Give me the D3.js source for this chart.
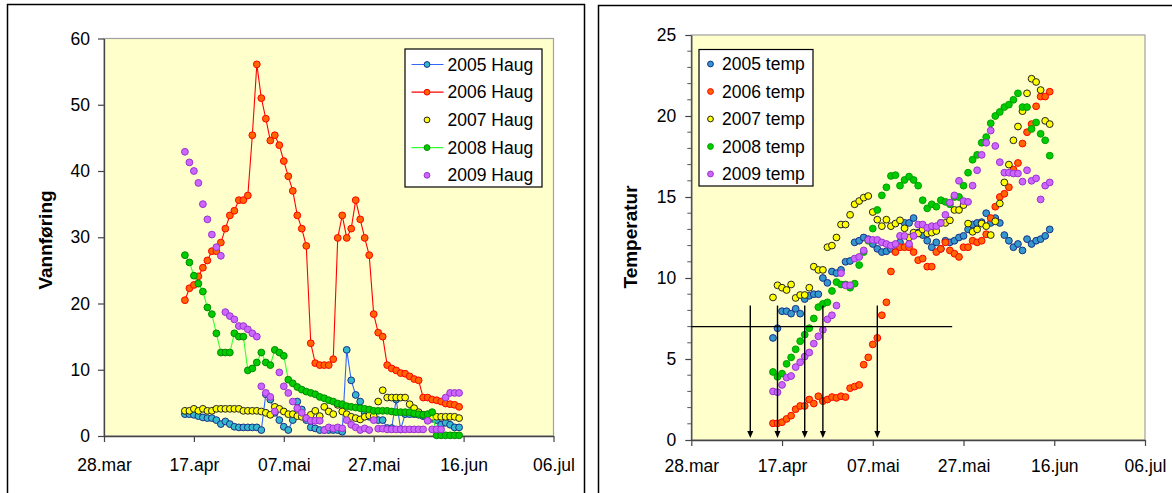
<!DOCTYPE html>
<html><head><meta charset="utf-8">
<script src="https://cdn.jsdelivr.net/npm/d3@7/dist/d3.min.js"></script>
<style>
body{margin:0;background:#fff}
svg{display:block}
text{font-family:"Liberation Sans",Arial,Helvetica,sans-serif;fill:#000}
</style>
</head><body>
<svg id="chart" width="1172" height="493"></svg>
<script>
// ---------- DATA ----------
const firstDay = Date.UTC(2009, 3, 15);   // 15 April
const dayAfterLast = Date.UTC(2009, 5, 16); // last sample 15 June
const dates = d3.utcDay.range(new Date(firstDay), new Date(dayAfterLast));

const xTickDates = ["2009-03-28","2009-04-17","2009-05-07","2009-05-27","2009-06-16","2009-07-06"];
const xTickLabels = ["28.mar","17.apr","07.mai","27.mai","16.jun","06.jul"];
const flowTicks = [0,10,20,30,40,50,60];
const tempTicks = [0,5,10,15,20,25];

const flowNames = ["2005 Haug","2006 Haug","2007 Haug","2008 Haug","2009 Haug"];
const tempNames = ["2005 temp","2006 temp","2007 temp","2008 temp","2009 temp"];

const haug2005 = [3.3,3.3,3.2,3.0,2.8,2.7,2.7,2.4,1.8,2.2,1.8,1.4,1.3,1.3,1.3,1.3,1.3,0.9,6.3,5.5,3.5,2.4,1.4,0.9,2.4,5.2,4.0,2.4,1.3,1.15,0.9,0.9,0.9,0.9,0.9,0.65,13.0,8.4,6.2,5.2,3.5,2.9,2.6,2.4,2.4,1.2,1.2,5.5,1.0,3.3,3.3,3.3,3.2,3.0,2.8,2.6,2.4,1.7,2.0,1.7,1.3,1.3];
const haug2006 = [20.5,22.3,22.8,24.1,25.4,26.5,27.9,27.9,29.2,31.3,33.3,34.0,35.6,35.6,36.3,45.4,56.1,51.0,47.9,44.6,45.4,43.9,41.5,39.2,37.0,33.3,31.3,28.7,14.0,11.0,10.7,10.7,10.7,11.6,29.9,33.3,29.9,31.3,35.6,32.7,29.9,27.3,18.4,15.6,15.0,10.7,10.2,9.9,9.5,9.4,9.0,8.6,8.4,5.8,5.8,5.5,5.4,5.2,4.9,4.8,4.7,4.4];
const haug2007 = [3.8,3.8,4.1,3.8,4.1,3.8,3.8,4.1,4.1,4.1,4.1,4.1,4.1,3.8,3.8,3.8,3.8,3.7,3.5,3.2,4.4,4.1,3.7,3.3,3.3,3.0,2.9,2.7,3.2,3.8,3.0,4.4,3.7,3.3,4.7,3.7,3.3,2.9,2.7,2.5,2.9,3.1,3.0,5.2,6.9,5.8,5.8,5.8,5.8,5.8,4.8,4.2,3.6,3.2,2.9,2.9,2.9,2.9,2.9,2.9,2.9,2.7];
const haug2008 = [27.3,26.2,24.2,23.0,21.8,19.4,18.4,15.5,12.6,12.6,12.6,15.5,15.0,15.0,9.9,10.2,11.1,12.6,11.1,10.7,13.0,12.6,12.1,8.5,7.95,7.4,7.0,6.7,6.5,6.3,5.9,5.7,5.4,5.2,4.9,4.8,4.5,4.4,4.3,4.2,4.1,4.0,3.8,3.8,3.8,3.8,3.7,3.6,3.6,3.6,3.6,3.4,3.3,3.2,3.3,3.6,0.1,0.1,0.1,0.1,0.1,0.1];
const haug2009 = [42.9,41.3,40.0,38.2,35.0,32.7,30.4,28.5,27.2,18.7,18.1,17.6,16.6,16.6,16.1,15.5,15.0,7.5,6.5,5.9,3.7,9.6,7.5,6.5,5.2,4.2,3.5,2.7,2.3,2.3,2.3,0.9,1.3,1.15,1.3,1.15,2.4,1.7,1.3,0.9,1.15,0.9,2.4,1.1,1.1,1.0,1.0,1.0,1.0,1.0,1.0,1.0,1.0,1.0,2.3,1.0,1.0,1.0,5.8,6.5,6.5,6.5];

const temp2005 = [6.3,6.9,7.95,7.95,7.8,8.1,7.8,8.7,8.9,9.0,9.0,10.0,9.7,10.4,10.3,10.5,11.0,11.05,12.2,12.3,12.5,12.4,12.1,11.8,11.6,11.65,11.8,11.9,12.2,13.4,13.4,13.7,12.8,12.65,12.3,11.9,12.2,11.8,12.3,12.2,12.3,12.5,12.6,13.0,13.3,13.4,13.45,14.0,13.4,13.7,13.4,12.65,12.3,11.9,12.1,11.7,12.4,12.1,12.3,12.4,12.6,13.0];
const temp2006 = [1.03,1.03,1.1,1.3,1.5,1.9,2.1,2.1,2.5,2.25,2.7,2.4,2.5,2.65,2.6,2.7,2.65,3.2,3.3,3.4,4.65,5.1,5.9,6.3,7.7,8.5,10.4,11.6,11.9,11.9,11.9,11.6,11.1,11.2,10.7,10.7,11.6,11.8,12.2,11.7,11.5,11.3,11.9,11.9,12.3,12.2,12.3,12.7,13.7,14.4,15.0,15.2,15.6,16.7,17.1,18.3,19.0,19.5,20.6,21.2,21.2,21.5];
const temp2007 = [8.8,9.55,9.4,9.26,9.6,8.77,8.95,8.95,9.4,10.7,10.5,10.5,11.9,12.0,12.5,13.3,13.3,13.9,14.55,14.75,14.96,15.06,14.07,13.6,13.2,13.6,13.2,13.36,13.56,13.07,12.5,12.8,12.75,13.0,12.75,12.8,12.9,13.4,13.4,13.56,14.2,14.2,14.5,13.36,12.85,13.0,13.36,13.2,12.65,13.5,14.6,15.9,17.0,18.5,19.35,20.3,21.4,22.3,22.1,21.6,19.7,19.5];
const temp2008 = [4.2,3.9,4.1,4.7,5.1,5.6,6.1,6.5,6.9,7.5,8.2,8.4,8.5,9.2,9.75,9.6,9.6,9.4,9.65,10.8,11.6,12.3,13.05,14.2,15.1,15.6,16.3,16.35,15.7,16.05,16.26,16.05,15.7,14.8,14.3,14.55,14.4,14.8,14.7,14.55,15.0,15.0,15.7,16.5,17.3,17.6,18.35,18.7,19.55,20.0,20.25,20.55,20.7,21.0,21.4,20.55,20.55,19.2,19.6,18.9,18.5,17.55];
const temp2009 = [3.0,2.95,3.4,3.85,3.95,4.5,4.8,5.15,5.4,5.95,6.4,6.8,7.45,7.7,8.3,10.3,9.55,9.55,11.2,11.3,11.7,12.35,12.35,12.35,12.2,12.1,12.0,12.1,12.6,12.6,12.1,12.6,13.3,13.3,13.1,13.2,13.2,13.4,13.9,14.65,15.1,16.0,14.75,14.7,15.7,16.65,17.6,18.35,19.1,18.15,17.15,16.5,16.5,16.45,16.45,15.95,16.65,16.0,16.15,14.85,15.7,15.9];

// annotation on the temperature chart
const thresholdTemp = 7;
const thresholdEnd = "2009-05-24T12:00:00Z";
const arrowDates = ["2009-04-10","2009-04-16","2009-04-22","2009-04-26","2009-05-08"];
const arrowTopTemp = 8.3;

// ---------- STYLES ----------
const seriesStyle = [
  {fill:"#33B8CC", stroke:"#1A2E8A", line:"#3366FF"},
  {fill:"#FF6600", stroke:"#FF0000", line:"#FF0000"},
  {fill:"#FFFF00", stroke:"#222222", line:null},
  {fill:"#00CC00", stroke:"#008A00", line:"#33FF33"},
  {fill:"#CC66FF", stroke:"#9933CC", line:null}
];
const tempStyle = [
  {fill:"#3399CC", stroke:"#1A2E8A"},
  {fill:"#FF6600", stroke:"#FF0000"},
  {fill:"#FFFF00", stroke:"#222222"},
  {fill:"#00CC00", stroke:"#00A000"},
  {fill:"#CC66FF", stroke:"#9933CC"}
];

const svg = d3.select("#chart");
const FS = 17.5;
const parse = d3.utcParse("%Y-%m-%d");
const xDomain = [parse(xTickDates[0]), parse(xTickDates[xTickDates.length-1])];
const tickDates = xTickDates.map(parse);

// frames
svg.append("rect").attr("x",7.5).attr("y",4.5).attr("width",577).attr("height",520)
  .attr("fill","#fff").attr("stroke","#000").attr("stroke-width",1.5);
svg.append("rect").attr("x",598.5).attr("y",5.5).attr("width",620).attr("height",520)
  .attr("fill","#fff").attr("stroke","#000").attr("stroke-width",1.5);

function drawPanel(cfg){
  const g = svg.append("g");
  const x = d3.scaleUtc().domain(xDomain).range([cfg.left, cfg.right]);
  const y = d3.scaleLinear().domain([0, cfg.ymax]).range([cfg.bottom, cfg.top]);
  g.append("rect").attr("x",cfg.left).attr("y",cfg.top)
    .attr("width",cfg.right-cfg.left).attr("height",cfg.bottom-cfg.top)
    .attr("fill","#FFFFCC").attr("stroke","#A0A0A0").attr("stroke-width",1.2);

  // minor ticks
  if (cfg.minor) {
    const minors = d3.range(0, cfg.ymax+0.001, 1).filter(v => cfg.yTicks.indexOf(v) < 0);
    g.selectAll(".minor").data(minors).join("line")
      .attr("x1",cfg.left-4).attr("x2",cfg.left)
      .attr("y1",d=>y(d)).attr("y2",d=>y(d)).attr("stroke","#555").attr("stroke-width",1);
  }
  const ya = g.append("g").attr("transform",`translate(${cfg.left},0)`)
    .call(d3.axisLeft(y).tickValues(cfg.yTicks).tickFormat(d3.format("d"))
      .tickSize(6).tickSizeOuter(0).tickPadding(cfg.yPad));
  const xa = g.append("g").attr("transform",`translate(0,${cfg.bottom})`)
    .call(d3.axisBottom(x).tickValues(tickDates).tickFormat((d,i)=>xTickLabels[i])
      .tickSize(6).tickSizeOuter(0).tickPadding(cfg.xPad));
  [ya,xa].forEach(a=>{
    a.select(".domain").attr("stroke","#444").attr("stroke-width",1.3);
    a.selectAll(".tick line").attr("stroke","#444").attr("stroke-width",1.2);
    a.selectAll("text").attr("font-size",FS).attr("fill","#000")
      .attr("font-family",'"Liberation Sans",Arial,sans-serif');
  });

  g.append("text").attr("transform",`translate(${cfg.titleX},${cfg.titleY}) rotate(-90)`)
    .attr("text-anchor","middle").attr("dominant-baseline","middle")
    .attr("font-size",cfg.titleFS).attr("font-weight","bold").text(cfg.title);
  return {g,x,y};
}

function drawSeries(p, values, st, r){
  const pts = values.map((v,i)=>({d:dates[i], v})).filter(o=>o.v!=null);
  if (st.line) {
    p.g.append("path").datum(pts)
      .attr("d", d3.line().x(o=>p.x(o.d)).y(o=>p.y(o.v)))
      .attr("fill","none").attr("stroke",st.line).attr("stroke-width",1.1);
  }
  p.g.append("g").selectAll("circle").data(pts).join("circle")
    .attr("cx",o=>p.x(o.d)).attr("cy",o=>p.y(o.v)).attr("r",r)
    .attr("fill",st.fill).attr("stroke",st.stroke).attr("stroke-width",1);
}

function drawLegend(p, box, names, styles, withLines){
  const lg = p.g.append("g");
  lg.append("rect").attr("x",box.x).attr("y",box.y).attr("width",box.w).attr("height",box.h)
    .attr("fill","#fff").attr("stroke","#000").attr("stroke-width",1.2);
  names.forEach((n,i)=>{
    const cy = box.row0 + i*box.dy;
    const st = styles[i];
    if (withLines && st.line) {
      lg.append("line").attr("x1",box.lx1).attr("x2",box.lx2).attr("y1",cy).attr("y2",cy)
        .attr("stroke",st.line).attr("stroke-width",1.2);
    }
    lg.append("circle").attr("cx",box.mx).attr("cy",cy).attr("r",2.9)
      .attr("fill",st.fill).attr("stroke",st.stroke).attr("stroke-width",1);
    lg.append("text").attr("x",box.tx).attr("y",cy).attr("dominant-baseline","central")
      .attr("font-size",FS).text(n);
  });
}

// ---------- LEFT: Vannføring ----------
const left = drawPanel({left:104,right:553.5,top:38.5,bottom:436,ymax:60,yTicks:flowTicks,
  yPad:8,xPad:17,minor:false,title:"Vannføring",titleX:47,titleY:240,titleFS:19});
[haug2005,haug2006,haug2007,haug2008,haug2009].forEach((vals,i)=>drawSeries(left, vals, seriesStyle[i], 3.4));
drawLegend(left,{x:405,y:49,w:137,h:138,row0:64.5,dy:27.7,lx1:411.5,lx2:443.5,mx:427,tx:447.5},
  flowNames, seriesStyle, true);

// ---------- RIGHT: Temperatur ----------
const right = drawPanel({left:691.3,right:1145,top:35,bottom:440,ymax:25,yTicks:tempTicks,
  yPad:9,xPad:14,minor:true,title:"Temperatur",titleX:632,titleY:237,titleFS:19});
[temp2005,temp2006,temp2007,temp2008,temp2009].forEach((vals,i)=>drawSeries(right, vals, tempStyle[i], 3.4));

// annotation: threshold line and arrows
right.g.append("line")
  .attr("x1",right.x(xDomain[0])).attr("x2",right.x(new Date(thresholdEnd)))
  .attr("y1",right.y(thresholdTemp)).attr("y2",right.y(thresholdTemp))
  .attr("stroke","#000").attr("stroke-width",1.1);
arrowDates.map(parse).forEach(d=>{
  const ax = right.x(d), y0 = right.y(arrowTopTemp), y1 = right.y(0) - 2;
  right.g.append("line").attr("x1",ax).attr("x2",ax).attr("y1",y0).attr("y2",y1-5)
    .attr("stroke","#000").attr("stroke-width",1.4);
  right.g.append("path").attr("d",`M${ax-3},${y1-7}L${ax+3},${y1-7}L${ax},${y1}Z`).attr("fill","#000");
});

drawLegend(right,{x:699,y:49.5,w:114,h:136.5,row0:64,dy:27.5,mx:710.5,tx:722},
  tempNames, tempStyle, false);
</script>
</body></html>
